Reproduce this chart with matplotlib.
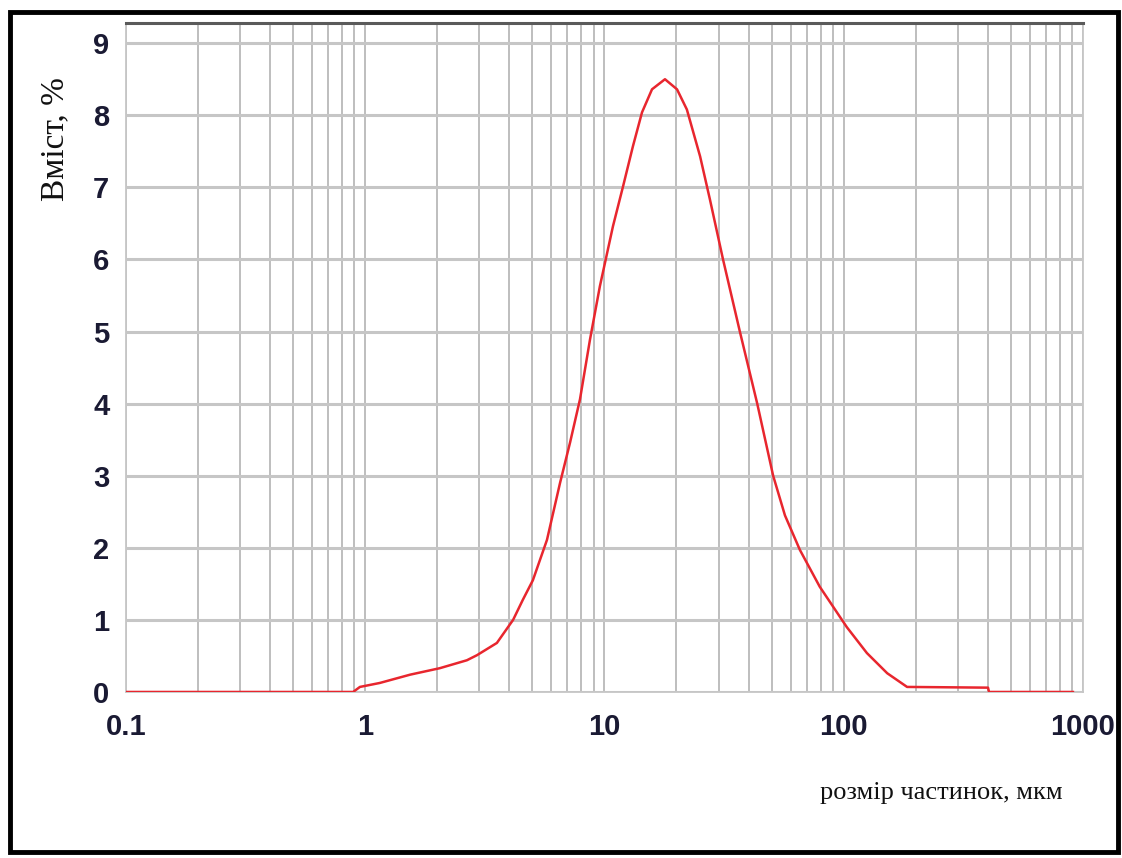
import matplotlib
matplotlib.use('Agg')
import matplotlib.pyplot as plt
from matplotlib.patches import Rectangle
from matplotlib.ticker import FixedLocator, NullFormatter

# Розподіл частинок за розміром (мкм) та вміст (%)
size_um = [0.1, 0.89, 0.95, 1.15, 1.54, 2.05, 2.66, 2.93, 3.55, 4.15, 4.56,
           5.02, 5.75, 6.52, 7.18, 7.9, 8.7, 9.57, 10.85, 11.95, 13.15, 14.35,
           15.8, 17.9, 20.1, 22.1, 25.1, 27.6, 31.3, 36.8, 43.5, 50.7,
           56.8, 65.6, 79.4, 103, 125, 152, 184, 401, 405, 908]
content_pct = [0.0, 0.0, 0.07, 0.125, 0.24, 0.33, 0.44, 0.51, 0.68, 1.0, 1.28,
               1.55, 2.11, 2.9, 3.46, 4.06, 4.89, 5.63, 6.46, 7.01, 7.57, 8.04,
               8.36, 8.5, 8.36, 8.08, 7.43, 6.83, 6.0, 5.0, 4.0, 3.0,
               2.45, 1.97, 1.46, 0.9, 0.54, 0.26, 0.07, 0.06, 0.0, 0.0]

x_ticks = [0.1, 1, 10, 100, 1000]
x_tick_labels = ['0.1', '1', '10', '100', '1000']
y_ticks = list(range(10))

fig = plt.figure(figsize=(11.22, 8.58), dpi=100)
ax = fig.add_axes([0.1123, 0.1935, 0.8529, 0.7797])

ax.plot(size_um, content_pct, color='#e8262e', lw=1.8, zorder=3)

ax.set_xscale('log')
ax.set_xlim(0.1, 1000)
ax.set_ylim(0, 9.28)

# сітка: основні горизонталі та логарифмічні вертикалі
ax.set_xticks(x_ticks)
ax.set_xticklabels(x_tick_labels)
minor = [m * 10.0 ** d for d in range(-1, 3) for m in range(2, 10)]
ax.xaxis.set_minor_locator(FixedLocator(minor))
ax.xaxis.set_minor_formatter(NullFormatter())
ax.set_yticks(y_ticks)
ax.grid(axis='y', which='major', color='#c6c6c6', lw=2.2)
ax.grid(axis='x', which='both', color='#b9b9b9', lw=1.3)
ax.set_axisbelow(True)

ax.tick_params(which='both', length=0)
ax.tick_params(axis='x', pad=15)
ax.tick_params(axis='y', pad=12)
for lab in ax.get_xticklabels() + ax.get_yticklabels():
    lab.set_fontfamily(['Liberation Sans', 'DejaVu Sans'])
    lab.set_fontweight('bold')
    lab.set_fontsize(21)
    lab.set_color('#1a1a33')

for side in ['left', 'right', 'bottom']:
    ax.spines[side].set_color('#c6c6c6')
    ax.spines[side].set_linewidth(1.3)
ax.spines['top'].set_color('#5a5a5a')
ax.spines['top'].set_linewidth(2.2)

fig.text(0.049, 0.838, 'Вміст, %', rotation=90, ha='center', va='center',
         fontsize=24, family=['Liberation Serif', 'DejaVu Serif'], color='#111111')
fig.text(0.9474, 0.0758, 'розмір частинок, мкм', ha='right', va='center',
         fontsize=19, family=['Liberation Serif', 'DejaVu Serif'], color='#111111')

# рамка навколо рисунка
fig.patches.append(Rectangle((0.0089, 0.007), 0.9875, 0.979, transform=fig.transFigure,
                             fill=False, edgecolor='black', lw=3.5))

fig.savefig('out.png', dpi=100)
